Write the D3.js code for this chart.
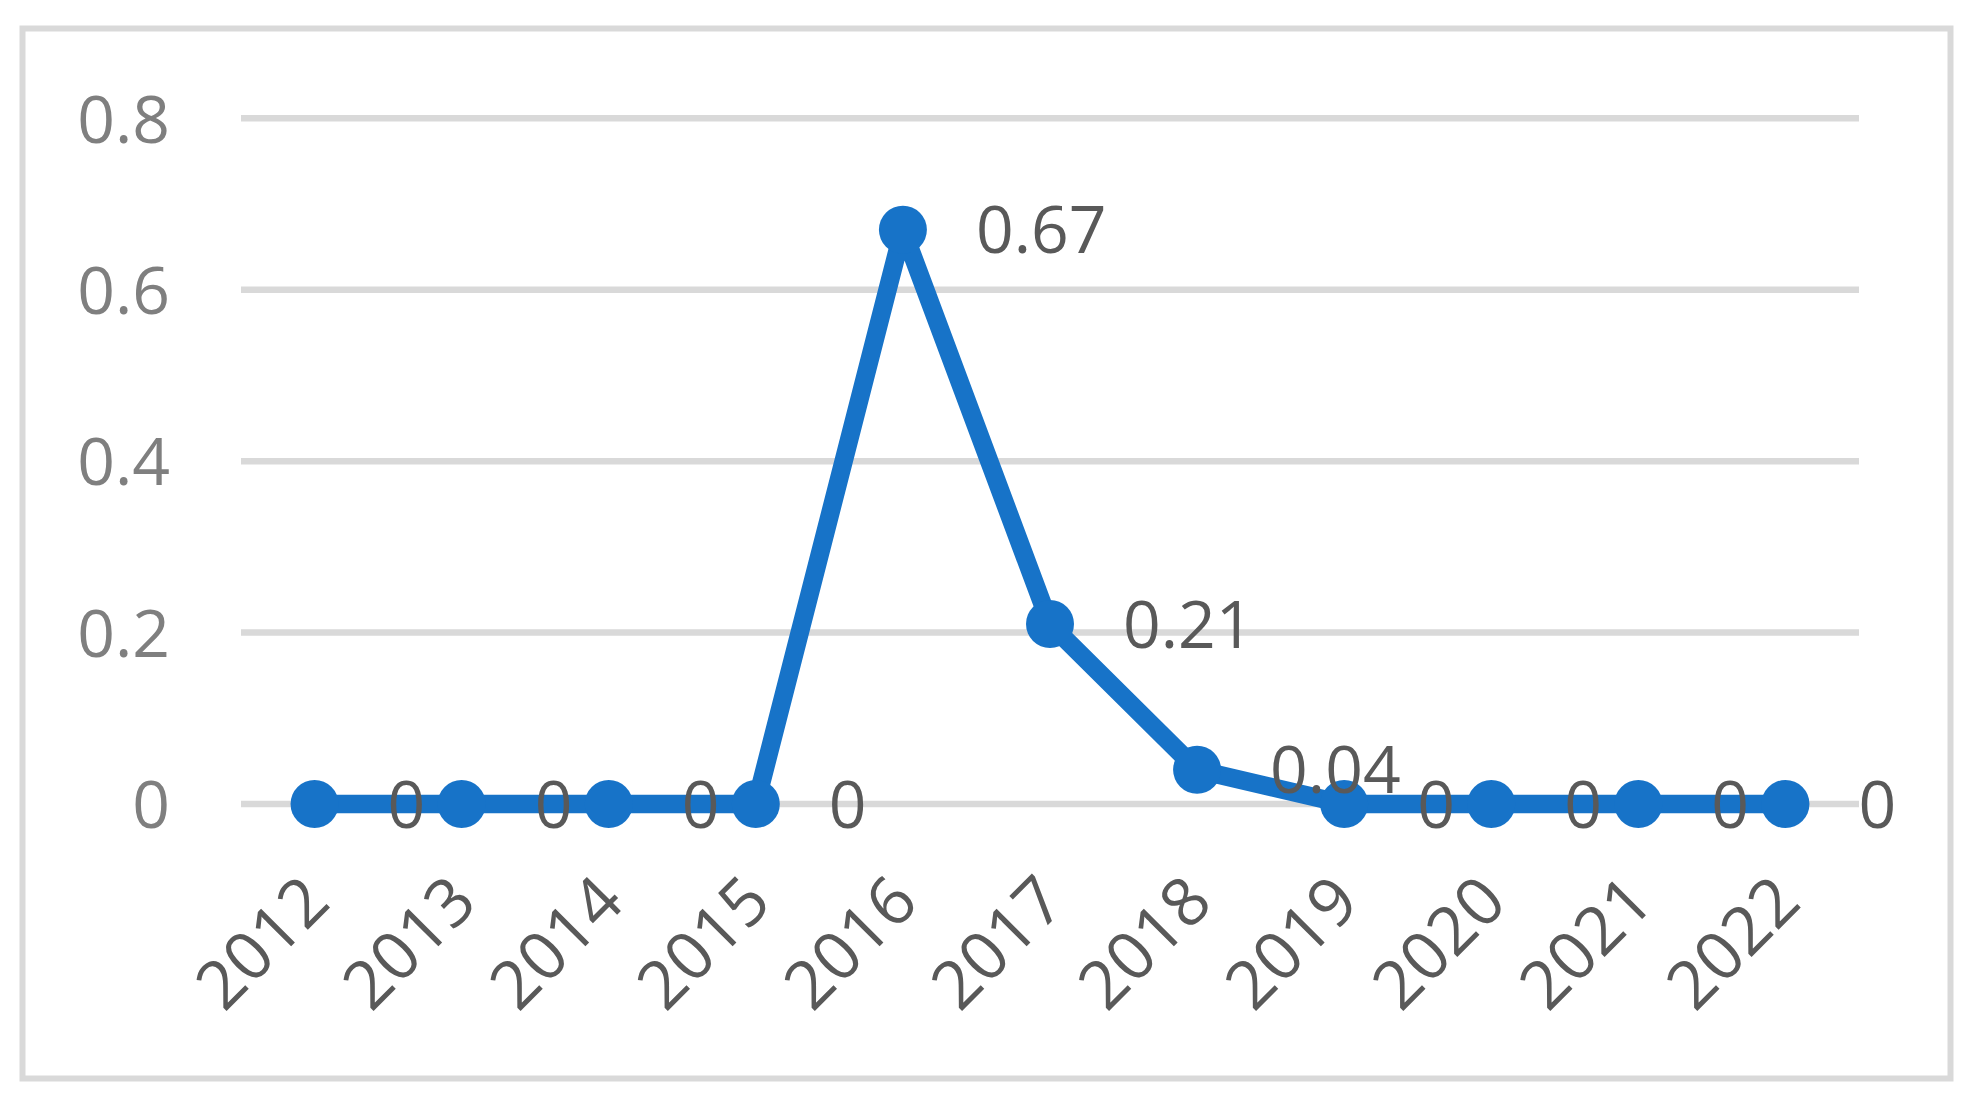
<!DOCTYPE html>
<html>
<head>
<meta charset="utf-8">
<script src="https://cdn.jsdelivr.net/npm/d3@7"></script>
<style>
  html, body { margin: 0; padding: 0; background: #fff; }
  svg { display: block; }
  text { font-family: "Open Sans", sans-serif; }
</style>
</head>
<body>
<svg id="chart" width="1986" height="1111"></svg>
<script>
const years = ["2012","2013","2014","2015","2016","2017","2018","2019","2020","2021","2022"];
const values = [0, 0, 0, 0, 0.67, 0.21, 0.04, 0, 0, 0, 0];
const yTicks = [0, 0.2, 0.4, 0.6, 0.8];
const yTickLabels = ["0", "0.2", "0.4", "0.6", "0.8"];

const svg = d3.select("#chart");

// outer border
svg.append("rect")
  .attr("x", 22.5).attr("y", 28.5)
  .attr("width", 1928).attr("height", 1050)
  .attr("fill", "#fff")
  .attr("stroke", "#d9d9d9")
  .attr("stroke-width", 6);

const x = d3.scalePoint().domain(years).range([241, 1859]).padding(0.5);
const y = d3.scaleLinear().domain([0, 0.8]).range([804, 118.3]);

// gridlines
svg.append("g").selectAll("line")
  .data(yTicks).join("line")
  .attr("x1", 241).attr("x2", 1859)
  .attr("y1", d => y(d)).attr("y2", d => y(d))
  .attr("stroke", "#d9d9d9")
  .attr("stroke-width", 6.5);

// y axis labels
const yAxis = d3.axisLeft(y).tickValues(yTicks)
  .tickFormat((d, i) => yTickLabels[i]).tickSize(0).tickPadding(0);
const gy = svg.append("g").attr("transform", "translate(170,0)").call(yAxis);
gy.select(".domain").remove();
gy.selectAll("text")
  .attr("font-family", "Open Sans, sans-serif")
  .attr("font-size", 66)
  .attr("fill", "#7f7f7f")
  .attr("dy", "0.36em");

// x axis labels
const xAxis = d3.axisBottom(x).tickSize(0).tickPadding(0);
const gx = svg.append("g").call(xAxis);
gx.select(".domain").remove();
gx.selectAll(".tick").attr("transform", d => `translate(${x(d) + 18},905)`);
gx.selectAll("text")
  .attr("font-family", "Open Sans, sans-serif")
  .attr("font-size", 67)
  .attr("fill", "#595959")
  .attr("text-anchor", "end")
  .attr("dy", 0)
  .attr("y", 0)
  .attr("transform", "rotate(-45)");

const data = years.map((yr, i) => ({ yr, v: values[i] }));

// line
const line = d3.line().x(d => x(d.yr)).y(d => y(d.v));
svg.append("path")
  .datum(data)
  .attr("d", line)
  .attr("fill", "none")
  .attr("stroke", "#1773c8")
  .attr("stroke-width", 18.5)
  .attr("stroke-linejoin", "round");

// markers
svg.append("g").selectAll("circle")
  .data(data).join("circle")
  .attr("cx", d => x(d.yr))
  .attr("cy", d => y(d.v))
  .attr("r", 24)
  .attr("fill", "#1773c8");

// data labels
svg.append("g").selectAll("text")
  .data(data).join("text")
  .attr("x", d => x(d.yr) + 73)
  .attr("y", d => y(d.v))
  .attr("dy", "0.36em")
  .attr("font-size", 66)
  .attr("fill", "#595959")
  .text(d => String(d.v));
</script>
</body>
</html>
